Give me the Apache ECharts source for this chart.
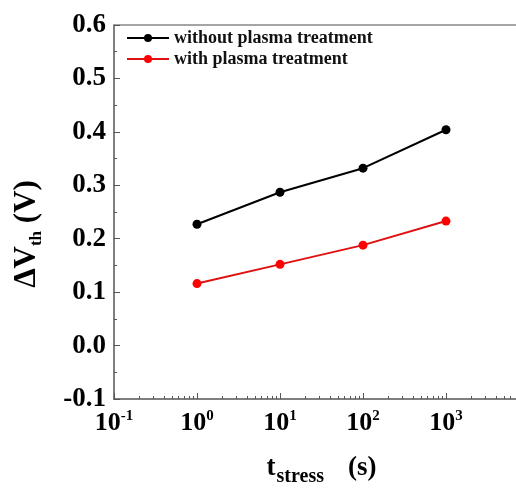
<!DOCTYPE html>
<html lang="en">
<head>
    <meta charset="UTF-8">
    <title>Threshold voltage shift</title>
    <script type="text/javascript" src="https://cdn.jsdelivr.net/npm/echarts@6/dist/echarts.min.js"></script>
    <style>
        html, body { margin: 0; padding: 0; background: #fff; }
    </style>
</head>
<body>
    <div id="main" style="width:516px;height:489px;"></div>
</body>
<script type="text/javascript">
    // stress time (s)
    var times = [1, 10, 100, 1000];
    var withoutPlasma = [0.227, 0.287, 0.332, 0.404];
    var withPlasma = [0.116, 0.152, 0.188, 0.233];

    var xMajor = [0.1, 1, 10, 100, 1000, 10000];
    var xLabels = [0.1, 1, 10, 100, 1000];
    var xMinor = [];
    for (var d = 0; d < 5; d++) {
        for (var k = 2; k <= 9; k++) {
            xMinor.push(k * xMajor[d]);
        }
    }

    var serif = 'Liberation Serif';
    var axisColor = '#555';

    var myChart = echarts.init(document.getElementById('main'));

    myChart.setOption({
        animation: false,
        grid: {
            left: 114, top: 25, right: -13, bottom: 90,
            outerBoundsMode: 'none'
        },
        legend: {
            left: 121, top: 24,
            orient: 'vertical',
            itemWidth: 42, itemHeight: 10, itemGap: 3,
            textStyle: { fontFamily: serif, fontWeight: 'bold', fontSize: 18, color: '#111' },
            data: ['without plasma treatment', 'with plasma treatment']
        },
        xAxis: [{
            type: 'log', logBase: 10, min: 0.1, max: 10000,
            name: 't{sub|stress}(s)',
            nameLocation: 'middle', nameGap: 50,
            nameTextStyle: {
                fontFamily: serif, fontWeight: 'bold', fontSize: 27, color: '#000',
                rich: { sub: { fontFamily: serif, fontWeight: 'bold', fontSize: 20, padding: [18, 24, 0, 1] } }
            },
            axisLine: { onZero: false, lineStyle: { color: axisColor, width: 1.5 } },
            axisTick: { inside: true, length: 6, customValues: xMajor, lineStyle: { color: axisColor } },
            axisLabel: {
                customValues: xLabels,
                margin: 10,
                fontFamily: serif, fontWeight: 'bold', fontSize: 26, color: '#000',
                formatter: function (v) {
                    return '10{sup|' + Math.round(Math.log10(v)) + '}';
                },
                rich: { sup: { fontFamily: serif, fontWeight: 'bold', fontSize: 15, padding: [0, 0, 13, 0], color: '#000' } }
            },
            splitLine: { show: false }
        }, {
            // minor ticks
            type: 'log', logBase: 10, min: 0.1, max: 10000,
            position: 'bottom', offset: 0,
            axisLine: { show: false, onZero: false },
            axisTick: { inside: true, length: 3, customValues: xMinor, lineStyle: { color: axisColor } },
            axisLabel: { show: false },
            splitLine: { show: false }
        }, {
            // top frame
            type: 'log', logBase: 10, min: 0.1, max: 10000,
            position: 'top',
            axisLine: { show: true, onZero: false, lineStyle: { color: '#888', width: 1.5 } },
            axisTick: { show: false },
            axisLabel: { show: false },
            splitLine: { show: false }
        }],
        yAxis: {
            type: 'value', min: -0.1, max: 0.6, interval: 0.1,
            name: '\u0394V{sub|th} (V)',
            nameLocation: 'middle', nameGap: 69, nameRotate: 90,
            nameTextStyle: {
                fontFamily: serif, fontWeight: 'bold', fontSize: 31, color: '#000',
                padding: [0, 44, 0, 0],
                rich: { sub: { fontFamily: serif, fontWeight: 'bold', fontSize: 17, padding: [20, 0, 0, 0] } }
            },
            axisLine: { show: true, onZero: false, lineStyle: { color: axisColor, width: 1.5 } },
            axisTick: { inside: true, length: 6, lineStyle: { color: axisColor } },
            minorTick: { show: true, splitNumber: 2, length: 3, lineStyle: { color: axisColor } },
            axisLabel: {
                margin: 8,
                fontFamily: serif, fontWeight: 'bold', fontSize: 27, color: '#000',
                formatter: function (v) { return v.toFixed(1); }
            },
            splitLine: { show: false }
        },
        series: [{
            name: 'without plasma treatment',
            type: 'line',
            data: times.map(function (t, i) { return [t, withoutPlasma[i]]; }),
            symbol: 'circle', symbolSize: 9,
            itemStyle: { color: '#000' },
            lineStyle: { color: '#000', width: 2 }
        }, {
            name: 'with plasma treatment',
            type: 'line',
            data: times.map(function (t, i) { return [t, withPlasma[i]]; }),
            symbol: 'circle', symbolSize: 9,
            itemStyle: { color: '#f00' },
            lineStyle: { color: '#e01010', width: 2 }
        }]
    });
</script>
</html>
